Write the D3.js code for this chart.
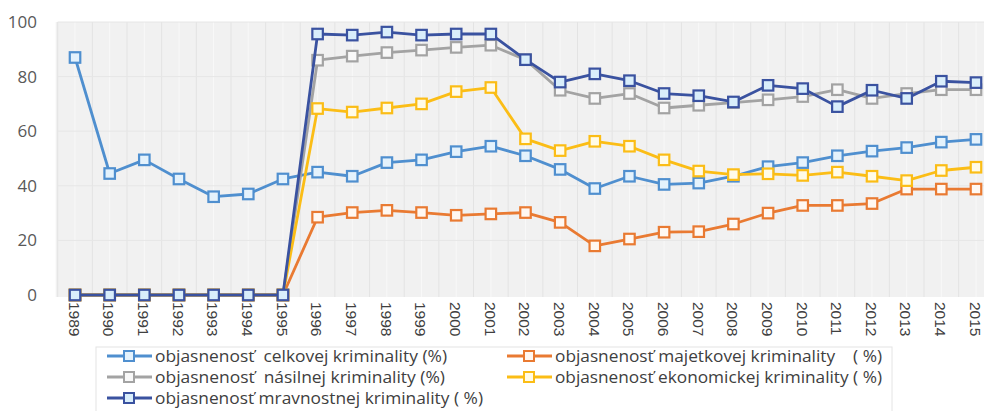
<!DOCTYPE html>
<html><head><meta charset="utf-8">
<script src="https://cdn.jsdelivr.net/npm/d3@7"></script>
<style>body{margin:0;background:#fff}svg{display:block}text{font-family:"Open Sans","Liberation Sans",sans-serif}</style>
</head><body><svg id="c" width="984" height="411"></svg>
<script>
const years = ["1989","1990","1991","1992","1993","1994","1995","1996","1997","1998","1999","2000","2001","2002","2003","2004","2005","2006","2007","2008","2009","2010","2011","2012","2013","2014","2015"];
const yTicks = [0,20,40,60,80,100];
const celkovej    = [87,44.5,49.5,42.5,36,37,42.5,45,43.5,48.5,49.5,52.5,54.5,51,46,39,43.5,40.5,41,43.5,47,48.5,51,52.7,54,56,57];
const majetkovej  = [0,0,0,0,0,0,0,28.5,30.2,31,30.2,29.2,29.7,30.2,26.6,18,20.5,23,23.2,26,30,32.8,32.8,33.5,38.8,38.8,38.8];
const nasilnej    = [0,0,0,0,0,0,0,86,87.5,88.8,89.7,90.7,91.5,86.2,75,72,73.8,68.5,69.5,70.5,71.5,72.7,75.2,72,73.8,75.2,75.2];
const ekonomickej = [0,0,0,0,0,0,0,68.3,67,68.5,70,74.5,76,57.2,52.9,56.3,54.5,49.5,45.4,44.1,44.4,43.8,45,43.5,41.9,45.6,46.8];
const mravnostnej = [0,0,0,0,0,0,0,95.6,95.2,96.3,95.2,95.6,95.6,86.2,78,81,78.5,73.8,73,70.7,76.8,75.6,69,75,72,78.3,77.8];
const seriesNames = ["objasnenosť  celkovej kriminality (%)","objasnenosť majetkovej kriminality    ( %)","objasnenosť  násilnej kriminality (%)","objasnenosť ekonomickej kriminality ( %)","objasnenosť mravnostnej kriminality ( %)"];
const seriesColors = ["#4f8fcf","#e97a32","#a3a3a3","#fbbd16","#3a52a0"];
const markerFills = ["#e4f2fc","#fff8f2","#f8f8f8","#fffbe8","#d9eefb"];
const seriesData = [celkovej, majetkovej, nasilnej, ekonomickej, mravnostnej];

const svg = d3.select("#c");
const x = d3.scaleBand().domain(years).range([57.7, 993.3]);
const xc = d => x(d) + x.bandwidth()/2;
const y = d3.scaleLinear().domain([0,100]).range([295, 22]);

// plot background
svg.append("rect").attr("x", x.range()[0]-2).attr("y", y(100)).attr("width", x.range()[1]-x.range()[0]+4).attr("height", y(0)-y(100)+2).attr("fill", "#f1f1f1");
// grid
const g = svg.append("g");
years.forEach(yr => {
  g.append("line").attr("x1", x(yr)).attr("x2", x(yr)).attr("y1", y(100)).attr("y2", y(0)+2).attr("stroke", "#e3e3e3").attr("stroke-width", 1);
  g.append("line").attr("x1", xc(yr)).attr("x2", xc(yr)).attr("y1", y(100)).attr("y2", y(0)+2).attr("stroke", "#f8f8f8").attr("stroke-width", 1);
});
yTicks.slice(1).forEach(t => {
  g.append("line").attr("x1", x.range()[0]).attr("x2", 984).attr("y1", y(t)).attr("y2", y(t)).attr("stroke", "#e6e6e6").attr("stroke-width", 1);
});

// y axis labels
const yAxis = d3.axisLeft(y).tickValues(yTicks).tickSize(0).tickPadding(0);
const ya = svg.append("g").attr("transform", "translate(37,0)").call(yAxis);
ya.select(".domain").remove();
ya.selectAll("text").attr("font-size", 17).attr("fill", "#595959").style("font-family", "'Open Sans',sans-serif");

// x axis labels
const xAxis = d3.axisBottom(x).tickSize(0).tickPadding(0);
const xa = svg.append("g").attr("transform", "translate(0,302)").call(xAxis);
xa.select(".domain").remove();
xa.selectAll("text").attr("font-size", 15.5).attr("fill", "#404040")
  .attr("transform", "rotate(90)").attr("x", 0).attr("y", 0).attr("dy", "0.4em").attr("text-anchor", "start")
  .style("font-family", "'Liberation Sans',sans-serif");

// lines
const line = d3.line().x((d,i) => xc(years[i])).y(d => y(d));
seriesData.forEach((arr, si) => {
  const sg = svg.append("g");
  sg.append("path").datum(arr).attr("d", line).attr("fill", "none").attr("stroke", seriesColors[si]).attr("stroke-width", 2.8).attr("stroke-linejoin", "round");
  const ms = 10.5;
  sg.selectAll("rect").data(arr).join("rect")
    .attr("x", (d,i) => xc(years[i]) - ms/2).attr("y", d => y(d) - ms/2)
    .attr("width", ms).attr("height", ms)
    .attr("fill", markerFills[si]).attr("stroke", seriesColors[si]).attr("stroke-width", 2.2);
});

// legend
const lg = svg.append("g");
lg.append("rect").attr("x", 96).attr("y", 347).attr("width", 796).attr("height", 80).attr("fill", "none").attr("stroke", "#e4e4e4");
const legendPos = [[107,356,447],[507,356,882],[107,377,445],[507,377,882],[107,398,483]];
legendPos.forEach((p, si) => {
  const [lx, ly, endX] = p;
  lg.append("line").attr("x1", lx).attr("x2", lx+45).attr("y1", ly).attr("y2", ly).attr("stroke", seriesColors[si]).attr("stroke-width", 2.8);
  lg.append("rect").attr("x", lx+22-5).attr("y", ly-5).attr("width", 10).attr("height", 10).attr("fill", markerFills[si]).attr("stroke", seriesColors[si]).attr("stroke-width", 2);
  lg.append("text").attr("x", lx+48).attr("y", ly).attr("dy", "0.35em").attr("font-size", 16).attr("fill", "#404040")
    .attr("textLength", endX - (lx+48)).attr("lengthAdjust", "spacingAndGlyphs")
    .style("white-space", "pre").text(seriesNames[si]);
});
</script></body></html>
